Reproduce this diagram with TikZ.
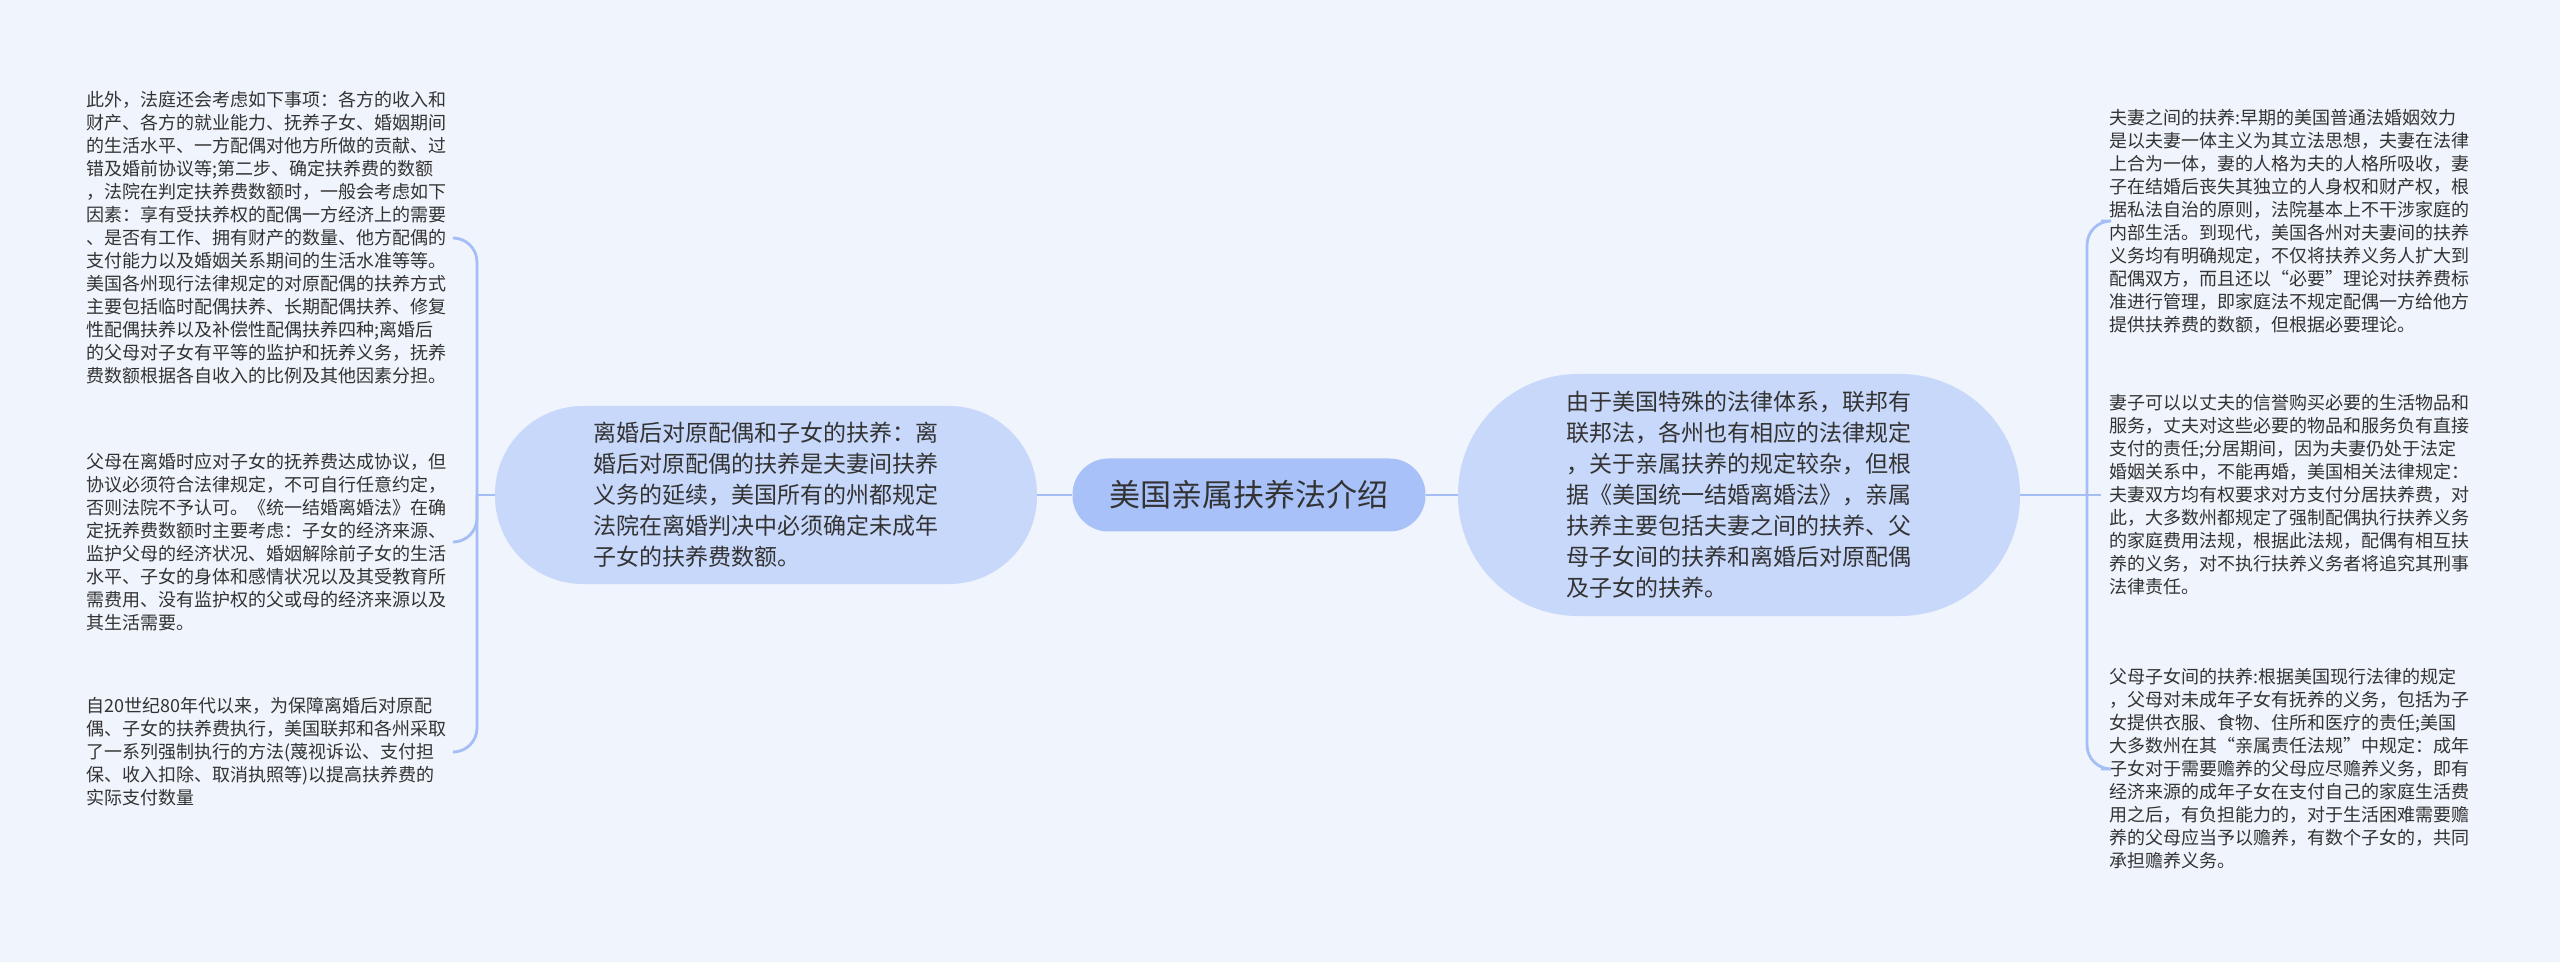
\documentclass[tikz,border=0pt]{standalone}
\usepackage{fontspec}
\setmainfont{Noto Sans CJK SC}
\usepackage{xcolor}
\usepackage{tikz}
\definecolor{mapbg}{HTML}{F0F4FC}
\definecolor{maproot}{HTML}{A8C1F8}
\definecolor{mapbranch}{HTML}{C8D8FA}
\definecolor{maplink}{HTML}{A5BEF5}
\definecolor{maptext}{HTML}{333333}

\begin{document}
\begin{tikzpicture}[x=0.5pt,y=-0.5pt,
  leaf/.style={align=left,text=maptext,inner xsep=4pt,inner ysep=2pt,font=\fontsize{9pt}{11.5pt}\selectfont},
  branch/.style={fill=mapbranch,text=maptext,align=left,font=\fontsize{11.5pt}{15.5pt}\selectfont},
  link/.style={draw=maplink,line width=1.4pt,rounded corners=12pt}]
  \fill[mapbg] (0,0) rectangle (2560,962);
  % centre and the two branches
  \node[fill=maproot,text=maptext,minimum width=176.5pt,minimum height=36.5pt,rounded corners=18pt,font=\fontsize{15.5pt}{18pt}\selectfont] (root) at (1249,495) {美国亲属扶养法介绍};
  \node[branch,minimum width=271pt,minimum height=89pt,rounded corners=44pt] (divorce) at (766,495) {离婚后对原配偶和子女的扶养：离\\婚后对原配偶的扶养是夫妻间扶养\\义务的延续，美国所有的州都规定\\法院在离婚判决中必须确定未成年\\子女的扶养费数额。};
  \node[branch,minimum width=281pt,minimum height=121pt,rounded corners=60pt] (overview) at (1739,495) {由于美国特殊的法律体系，联邦有\\联邦法，各州也有相应的法律规定\\，关于亲属扶养的规定较杂，但根\\据《美国统一结婚离婚法》，亲属\\扶养主要包括夫妻之间的扶养、父\\母子女间的扶养和离婚后对原配偶\\及子女的扶养。};
  % left leaves
  \node[leaf,anchor=east] (factors) at (455,238) {此外，法庭还会考虑如下事项：各方的收入和\\财产、各方的就业能力、抚养子女、婚姻期间\\的生活水平、一方配偶对他方所做的贡献、过\\错及婚前协议等;第二步、确定扶养费的数额\\，法院在判定扶养费数额时，一般会考虑如下\\因素：享有受扶养权的配偶一方经济上的需要\\、是否有工作、拥有财产的数量、他方配偶的\\支付能力以及婚姻关系期间的生活水准等等。\\美国各州现行法律规定的对原配偶的扶养方式\\主要包括临时配偶扶养、长期配偶扶养、修复\\性配偶扶养以及补偿性配偶扶养四种;离婚后\\的父母对子女有平等的监护和抚养义务，抚养\\费数额根据各自收入的比例及其他因素分担。};
  \node[leaf,anchor=east] (childsup) at (455,542) {父母在离婚时应对子女的抚养费达成协议，但\\协议必须符合法律规定，不可自行任意约定，\\否则法院不予认可。《统一结婚离婚法》在确\\定抚养费数额时主要考虑：子女的经济来源、\\监护父母的经济状况、婚姻解除前子女的生活\\水平、子女的身体和感情状况以及其受教育所\\需费用、没有监护权的父或母的经济来源以及\\其生活需要。};
  \node[leaf,anchor=east] (enforce) at (455,752) {自20世纪80年代以来，为保障离婚后对原配\\偶、子女的扶养费执行，美国联邦和各州采取\\了一系列强制执行的方法(蔑视诉讼、支付担\\保、收入扣除、取消执照等)以提高扶养费的\\实际支付数量};
  % right leaves
  \node[leaf,anchor=west] (spouse) at (2101,221) {夫妻之间的扶养:早期的美国普通法婚姻效力\\是以夫妻一体主义为其立法思想，夫妻在法律\\上合为一体，妻的人格为夫的人格所吸收，妻\\子在结婚后丧失其独立的人身权和财产权，根\\据私法自治的原则，法院基本上不干涉家庭的\\内部生活。到现代，美国各州对夫妻间的扶养\\义务均有明确规定，不仅将扶养义务人扩大到\\配偶双方，而且还以“必要”理论对扶养费标\\准进行管理，即家庭法不规定配偶一方给他方\\提供扶养费的数额，但根据必要理论。};
  \node[leaf,anchor=west] (credit) at (2101,495) {妻子可以以丈夫的信誉购买必要的生活物品和\\服务，丈夫对这些必要的物品和服务负有直接\\支付的责任;分居期间，因为夫妻仍处于法定\\婚姻关系中，不能再婚，美国相关法律规定：\\夫妻双方均有权要求对方支付分居扶养费，对\\此，大多数州都规定了强制配偶执行扶养义务\\的家庭费用法规，根据此法规，配偶有相互扶\\养的义务，对不执行扶养义务者将追究其刑事\\法律责任。};
  \node[leaf,anchor=west] (parents) at (2101,769) {父母子女间的扶养:根据美国现行法律的规定\\，父母对未成年子女有抚养的义务，包括为子\\女提供衣服、食物、住所和医疗的责任;美国\\大多数州在其“亲属责任法规”中规定：成年\\子女对于需要赡养的父母应尽赡养义务，即有\\经济来源的成年子女在支付自己的家庭生活费\\用之后，有负担能力的，对于生活困难需要赡\\养的父母应当予以赡养，有数个子女的，共同\\承担赡养义务。};
  % connectors
  \draw[link] (root.west) -- (divorce.east);
  \draw[link] (root.east) -- (overview.west);
  \coordinate (lhub) at (477,495);
  \draw[link] (divorce.west) -- (lhub);
  \draw[link] (lhub) |- (factors.east);
  \draw[link] (lhub) |- (childsup.east);
  \draw[link] (lhub) |- (enforce.east);
  \coordinate (rhub) at (2087,495);
  \draw[link] (overview.east) -- (rhub);
  \draw[link] (rhub) |- (spouse.west);
  \draw[link] (rhub) -- (credit.west);
  \draw[link] (rhub) |- (parents.west);
\end{tikzpicture}
\end{document}
